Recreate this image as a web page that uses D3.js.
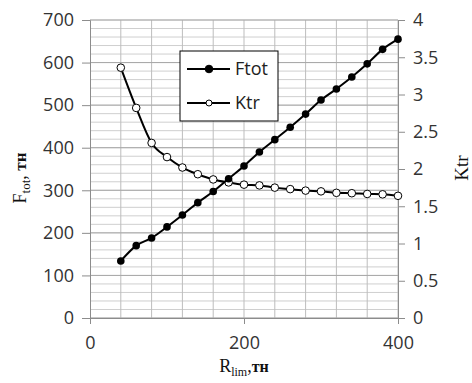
<!DOCTYPE html>
<html>
<head>
<meta charset="utf-8">
<script src="https://cdn.jsdelivr.net/npm/d3@7"></script>
<style>
  body { margin: 0; background: #fff; }
  .tick text { font-family: "Open Sans", sans-serif; font-size: 18px; fill: #333; }
</style>
</head>
<body>
<div id="chart"></div>
<script>
// R_lim values, tn
const rLim = [40, 60, 80, 100, 120, 140, 160, 180, 200, 220, 240, 260, 280, 300, 320, 340, 360, 380, 400];
// Ftot, tn (left axis)
const ftot = [134, 170, 188, 214, 242, 271, 297, 327, 357, 390, 419, 448, 479, 512, 538, 566, 597, 631, 655];
// Ktr (right axis)
const ktr = [3.36, 2.82, 2.35, 2.16, 2.02, 1.93, 1.86, 1.82, 1.79, 1.78, 1.75, 1.73, 1.71, 1.70, 1.68, 1.675, 1.665, 1.66, 1.64];

const xTicks = [0, 200, 400];
const yLeftTicks = [0, 100, 200, 300, 400, 500, 600, 700];
const yRightTicks = [0, 0.5, 1, 1.5, 2, 2.5, 3, 3.5, 4];

const width = 472, height = 383;
const margin = { top: 20, right: 74, bottom: 65, left: 90 };

const svg = d3.select('#chart')
    .append('svg')
    .attr('width', width)
    .attr('height', height);

const xScale = d3.scaleLinear().domain([0, 400]).range([margin.left, width - margin.right]);
const yLeft = d3.scaleLinear().domain([0, 700]).range([height - margin.bottom, margin.top]);
const yRight = d3.scaleLinear().domain([0, 4]).range([height - margin.bottom, margin.top]);

// Gridlines: minor horizontal every 20, major every 100, vertical every 40
const grid = svg.append('g');
grid.selectAll('.hminor')
    .data(d3.range(0, 701, 20))
    .enter().append('line')
    .attr('x1', xScale(0)).attr('x2', xScale(400))
    .attr('y1', d => yLeft(d)).attr('y2', d => yLeft(d))
    .attr('stroke', '#cfcfcf').attr('stroke-width', 1);
grid.selectAll('.vgrid')
    .data(d3.range(40, 401, 40))
    .enter().append('line')
    .attr('x1', d => xScale(d)).attr('x2', d => xScale(d))
    .attr('y1', yLeft(0)).attr('y2', yLeft(700))
    .attr('stroke', '#bdbdbd').attr('stroke-width', 1);
grid.selectAll('.hmajor')
    .data(yLeftTicks)
    .enter().append('line')
    .attr('x1', xScale(0)).attr('x2', xScale(400))
    .attr('y1', d => yLeft(d)).attr('y2', d => yLeft(d))
    .attr('stroke', '#a8a8a8').attr('stroke-width', 1);

// Axes
const xAxis = d3.axisBottom(xScale).tickValues(xTicks).tickSize(6).tickPadding(12);
const leftAxis = d3.axisLeft(yLeft).tickValues(yLeftTicks).tickSize(8).tickPadding(8);
const rightAxis = d3.axisRight(yRight).tickValues(yRightTicks).tickSize(7).tickPadding(8)
    .tickFormat(d3.format('~g'));

function styleAxis(g) {
    g.select('.domain').attr('stroke', '#8c8c8c');
    g.selectAll('.tick line').attr('stroke', '#8c8c8c');
}

svg.append('g')
    .attr('transform', `translate(0,${yLeft(0)})`)
    .call(xAxis).call(styleAxis)
    .selectAll('text').attr('dy', '0.71em');

svg.append('g')
    .attr('transform', `translate(${xScale(0)},0)`)
    .call(leftAxis).call(styleAxis);

svg.append('g')
    .attr('transform', `translate(${xScale(400)},0)`)
    .call(rightAxis).call(styleAxis);

// Lines
const ftotData = rLim.map((r, i) => ({ x: r, y: ftot[i] }));
const ktrData = rLim.map((r, i) => ({ x: r, y: ktr[i] }));

const lineLeft = d3.line().x(d => xScale(d.x)).y(d => yLeft(d.y)).curve(d3.curveMonotoneX);
const lineRight = d3.line().x(d => xScale(d.x)).y(d => yRight(d.y)).curve(d3.curveMonotoneX);

svg.append('path')
    .attr('d', lineRight(ktrData))
    .attr('fill', 'none').attr('stroke', '#000').attr('stroke-width', 2);
svg.selectAll('.ktr-dot')
    .data(ktrData)
    .enter().append('circle')
    .attr('cx', d => xScale(d.x)).attr('cy', d => yRight(d.y))
    .attr('r', 3.8)
    .attr('fill', '#fff').attr('stroke', '#000').attr('stroke-width', 1);

svg.append('path')
    .attr('d', lineLeft(ftotData))
    .attr('fill', 'none').attr('stroke', '#000').attr('stroke-width', 2);
svg.selectAll('.ftot-dot')
    .data(ftotData)
    .enter().append('circle')
    .attr('cx', d => xScale(d.x)).attr('cy', d => yLeft(d.y))
    .attr('r', 3.8)
    .attr('fill', '#000');

// Legend
const legend = svg.append('g').attr('transform', 'translate(180,51)');
legend.append('rect')
    .attr('width', 98).attr('height', 70)
    .attr('fill', '#fff').attr('stroke', '#000').attr('stroke-width', 1);
const items = [
    { name: 'Ftot', fill: '#000', y: 18 },
    { name: 'Ktr', fill: '#fff', y: 52 }
];
items.forEach(it => {
    legend.append('line')
        .attr('x1', 7).attr('x2', 50).attr('y1', it.y).attr('y2', it.y)
        .attr('stroke', '#000').attr('stroke-width', 2);
    legend.append('circle')
        .attr('cx', 29).attr('cy', it.y).attr('r', it.fill === '#000' ? 3.8 : 3)
        .attr('fill', it.fill).attr('stroke', '#000').attr('stroke-width', 1);
    legend.append('text')
        .attr('x', 55).attr('y', it.y).attr('dy', '0.35em')
        .style('font-family', '"Open Sans", sans-serif').style('font-size', '18px').style('fill', '#222')
        .text(it.name);
});

// Axis titles
const serif = '"Liberation Serif", "Times New Roman", serif';
const yTitle = svg.append('text')
    .attr('transform', 'translate(26,178) rotate(-90)')
    .attr('text-anchor', 'middle')
    .style('font-family', serif).style('font-size', '18px').style('fill', '#111');
yTitle.append('tspan').text('F');
yTitle.append('tspan').attr('dy', 4).style('font-size', '13px').text('tot');
yTitle.append('tspan').attr('dy', -4).text(', ');
yTitle.append('tspan').style('font-weight', 'bold').style('font-size', '17px').text('тн');

const xTitle = svg.append('text')
    .attr('x', 244).attr('y', 372)
    .attr('text-anchor', 'middle')
    .style('font-family', serif).style('font-size', '18px').style('fill', '#111');
xTitle.append('tspan').text('R');
xTitle.append('tspan').attr('dy', 4).style('font-size', '12px').text('lim');
xTitle.append('tspan').attr('dy', -4).text(',');
xTitle.append('tspan').style('font-weight', 'bold').style('font-size', '16px').text('тн');

svg.append('text')
    .attr('transform', 'translate(468,168) rotate(-90)')
    .attr('text-anchor', 'middle')
    .style('font-family', serif).style('font-size', '19px').style('fill', '#111')
    .text('Ktr');
</script>
</body>
</html>
